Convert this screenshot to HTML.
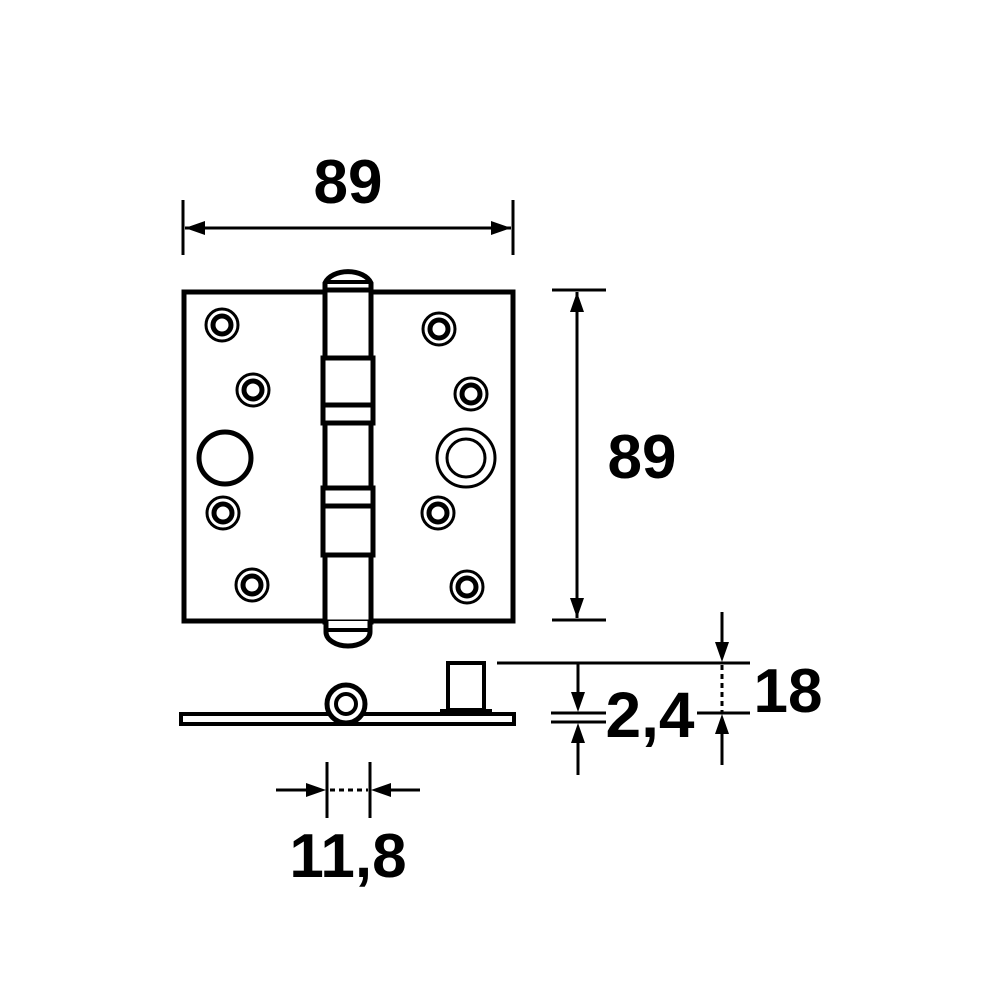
<!DOCTYPE html>
<html><head><style>body{margin:0;background:#fff}svg{display:block}</style></head><body>
<svg width="1000" height="1000" viewBox="0 0 1000 1000" xmlns="http://www.w3.org/2000/svg">
<defs>
<marker id="a" viewBox="0 0 10 10" refX="10" refY="5" markerWidth="7" markerHeight="5" orient="auto-start-reverse" markerUnits="userSpaceOnUse"><path d="M0,0L10,5L0,10z"/></marker>
</defs>
<g font-family="Liberation Sans, sans-serif" font-weight="bold" text-anchor="middle" fill="#000">
<text x="348" y="203" font-size="62">89</text>
<text x="642" y="478" font-size="62">89</text>
<text x="650" y="737" font-size="64">2,4</text>
<text x="788" y="712" font-size="62">18</text>
<text x="348" y="877" font-size="62">11,8</text>
</g>
<g stroke="#000" fill="none">
<!-- top dimension -->
<line x1="183" y1="200" x2="183" y2="255" stroke-width="3"/>
<line x1="513" y1="200" x2="513" y2="255" stroke-width="3"/>
<path d="M185,228L511,228" stroke-width="3"/>
<path d="M185,228l20,-7v14z M511,228l-20,-7v14z" fill="#000" stroke="none"/>
<!-- right dimension -->
<line x1="552" y1="290" x2="606" y2="290" stroke-width="3"/>
<line x1="552" y1="620" x2="606" y2="620" stroke-width="3"/>
<line x1="577" y1="292" x2="577" y2="618" stroke-width="3"/>
<path d="M577,292l-7,20h14z M577,618l-7,-20h14z" fill="#000" stroke="none"/>
<!-- plate -->
<rect x="184" y="292" width="329" height="329" stroke-width="5"/>
<!-- knuckle -->
<path d="M325,290V283a24,16 0 0 1 46,0V290" fill="#fff" stroke-width="5"/>
<line x1="326" y1="282" x2="370" y2="282" stroke-width="4"/>
<rect x="325" y="290" width="46" height="332" fill="#fff" stroke-width="5"/>
<path d="M326,621V632a22,14 0 0 0 44,0V621" fill="#fff" stroke-width="5"/>
<line x1="327" y1="630" x2="369" y2="630" stroke-width="4"/>
<rect x="323" y="358" width="50" height="65" fill="#fff" stroke-width="5"/>
<line x1="323" y1="405" x2="373" y2="405" stroke-width="5"/>
<rect x="323" y="488" width="50" height="67" fill="#fff" stroke-width="5"/>
<line x1="323" y1="506" x2="373" y2="506" stroke-width="5"/>
<!-- holes -->
<g stroke-width="3">
<circle cx="222" cy="325" r="16"/><circle cx="222" cy="325" r="9" stroke-width="5"/>
<circle cx="253" cy="390" r="16"/><circle cx="253" cy="390" r="9" stroke-width="5"/>
<circle cx="223" cy="513" r="16"/><circle cx="223" cy="513" r="9" stroke-width="5"/>
<circle cx="252" cy="585" r="16"/><circle cx="252" cy="585" r="9" stroke-width="5"/>
<circle cx="439" cy="329" r="16"/><circle cx="439" cy="329" r="9" stroke-width="5"/>
<circle cx="471" cy="394" r="16"/><circle cx="471" cy="394" r="9" stroke-width="5"/>
<circle cx="438" cy="513" r="16"/><circle cx="438" cy="513" r="9" stroke-width="5"/>
<circle cx="467" cy="587" r="16"/><circle cx="467" cy="587" r="9" stroke-width="5"/>
</g>
<circle cx="225" cy="458" r="26" stroke-width="5"/>
<circle cx="466" cy="458" r="29" stroke-width="3"/>
<circle cx="466" cy="458" r="19" stroke-width="3"/>
<!-- side view -->
<rect x="181" y="714" width="333" height="10" stroke-width="4"/>
<circle cx="346" cy="704" r="19" fill="#fff" stroke-width="5"/>
<circle cx="346" cy="704" r="10" stroke-width="4"/>
<rect x="448" y="663" width="36" height="47" stroke-width="4"/>
<rect x="440" y="709" width="52" height="5" fill="#000" stroke="none"/>
<!-- 2,4 / 18 -->
<line x1="497" y1="663" x2="750" y2="663" stroke-width="3"/>
<line x1="697" y1="713" x2="750" y2="713" stroke-width="3"/>
<line x1="551" y1="713" x2="606" y2="713" stroke-width="3"/>
<line x1="551" y1="722" x2="606" y2="722" stroke-width="3"/>
<line x1="578" y1="663" x2="578" y2="700" stroke-width="3"/>
<path d="M578,712l-7,-20h14z" fill="#000" stroke="none"/>
<line x1="578" y1="740" x2="578" y2="775" stroke-width="3"/>
<path d="M578,723l-7,20h14z" fill="#000" stroke="none"/>
<line x1="722" y1="612" x2="722" y2="648" stroke-width="3"/>
<path d="M722,662l-7,-20h14z" fill="#000" stroke="none"/>
<line x1="722" y1="665" x2="722" y2="712" stroke-width="3" stroke-dasharray="5,4"/>
<line x1="722" y1="730" x2="722" y2="765" stroke-width="3"/>
<path d="M722,714l-7,20h14z" fill="#000" stroke="none"/>
<!-- 11,8 -->
<line x1="327" y1="762" x2="327" y2="818" stroke-width="3"/>
<line x1="370" y1="762" x2="370" y2="818" stroke-width="3"/>
<line x1="276" y1="790" x2="310" y2="790" stroke-width="3"/>
<path d="M326,790l-20,-7v14z" fill="#000" stroke="none"/>
<line x1="387" y1="790" x2="420" y2="790" stroke-width="3"/>
<path d="M371,790l20,-7v14z" fill="#000" stroke="none"/>
<line x1="330" y1="790" x2="368" y2="790" stroke-width="3" stroke-dasharray="5,4"/>
</g>
</svg>
</body></html>
